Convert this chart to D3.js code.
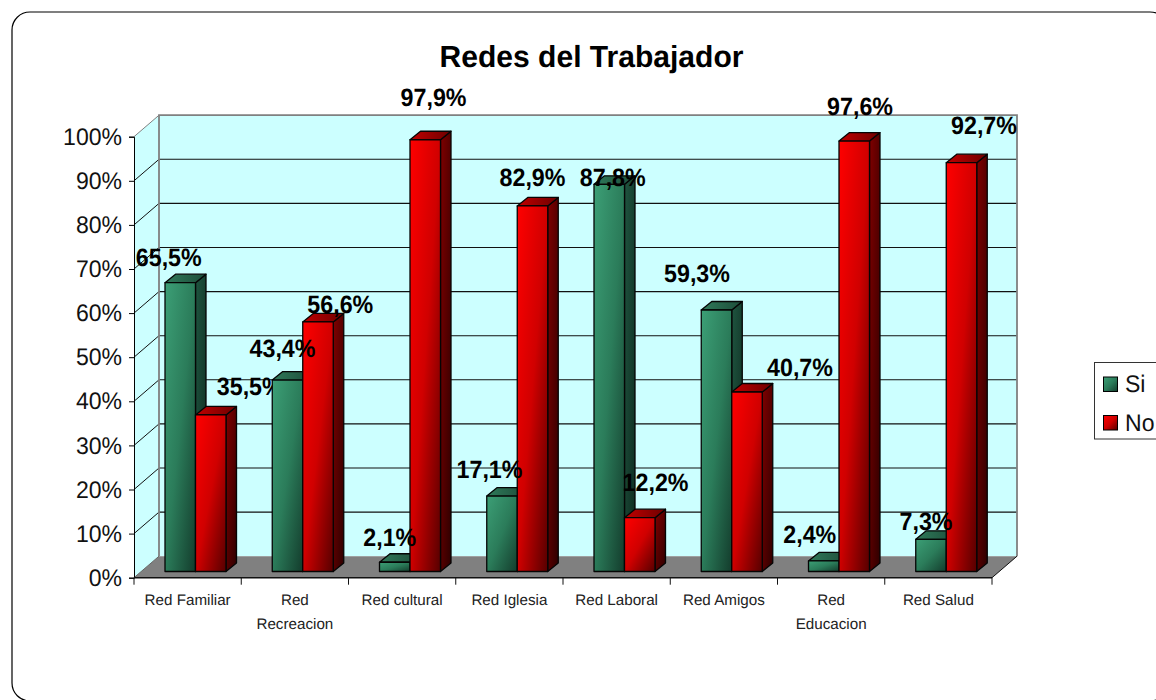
<!DOCTYPE html>
<html><head><meta charset="utf-8">
<script src="https://d3js.org/d3.v7.min.js"></script>
<style>html,body{margin:0;padding:0;background:#fff;overflow:hidden}svg{display:block}text{font-family:"Liberation Sans",Arial,sans-serif;text-rendering:geometricPrecision}</style>
</head><body><svg id="c" width="1156" height="700"></svg>
<script>
const categories = ["Red Familiar","Red Recreacion","Red cultural","Red Iglesia","Red Laboral","Red Amigos","Red Educacion","Red Salud"];
const siValues = [65.5,43.4,2.1,17.1,87.8,59.3,2.4,7.3];
const noValues = [35.5,56.6,97.9,82.9,12.2,40.7,97.6,92.7];
const seriesNames = ["Si","No"];
const yTicks = [0,10,20,30,40,50,60,70,80,90,100];
const chartTitle = "Redes del Trabajador";

// label placement relative to each bar's top centre (labels were hand-moved in the original)
const siLabelShift = [[-11.5,-17],[-5,-23],[-5,-16],[-12.5,-18],[3.5,2],[-19.5,-28],[-14,-18],[-5,-9]];
const noLabelShift = [[39,-20],[22.3,-8.6],[8.3,-34],[0,-20],[15.8,-26.7],[53,-16],[5.8,-26],[22.5,-28.4]];

const svg = d3.select("#c");
const L=134,R=992,B=577.7,T=136.7,DX=25,DY=-21.5,by=-6.2,bdx=10.5,bdy=-8.5;
const x = d3.scaleBand().domain(categories).range([L,R]);
const xs = d3.scaleBand().domain(seriesNames).range([31,92]);
const y = d3.scaleLinear().domain([0,100]).range([B,T]);
const pts = a => a.map(p=>p.join(",")).join(" ");
// the reference text is slightly taller than its natural width
const squeeze = (sel,r) => sel.each(function(){
  const len = this.getComputedTextLength();
  d3.select(this).attr("textLength",len*r).attr("lengthAdjust","spacingAndGlyphs");
});

const defs = svg.append("defs");
function grad(id,stops,diag){
  const g = defs.append("linearGradient").attr("id",id).attr("x1",0).attr("y1",0).attr("x2",1).attr("y2",diag?1:0);
  stops.forEach(s=>g.append("stop").attr("offset",s[0]).attr("stop-color",s[1]));
}
grad("siF",[[0,"#3c9f76"],[.5,"#2b7c5a"],[1,"#133c2c"]],true);
grad("noF",[[0,"#ff0000"],[.5,"#d00000"],[1,"#560000"]],true);
grad("siT",[[0,"#2f7a5a"],[1,"#1d4c39"]],false);
grad("noT",[[0,"#c00000"],[1,"#6e0000"]],false);
grad("siS",[[0,"#1f5540"],[1,"#0e2c20"]],true);
grad("noS",[[0,"#800000"],[1,"#2e0000"]],true);

// frame
svg.append("rect").attr("x",12).attr("y",12).attr("width",1156).attr("height",689).attr("rx",18).attr("ry",18)
  .attr("fill","#fff").attr("stroke","#000").attr("stroke-width",1.2);

// title
svg.append("text").attr("x",591.5).attr("y",67).attr("text-anchor","middle").attr("font-weight","bold")
  .attr("font-size",30.5).attr("fill","#000").text(chartTitle).call(squeeze,0.985);

// walls
svg.append("polygon").attr("points",pts([[L,T],[L+DX,T+DY],[L+DX,B+DY],[L,B]])).attr("fill","#ccffff");
svg.append("rect").attr("x",L+DX).attr("y",T+DY).attr("width",R-L).attr("height",B-T).attr("fill","#ccffff");
svg.append("polygon").attr("points",pts([[L,B],[L+DX,B+DY],[R+DX,B+DY],[R,B]])).attr("fill","#808080");

// gridlines
const inner = yTicks.filter(d=>d>0&&d<100);
svg.selectAll(".g").data(inner).join("line").attr("x1",L+DX).attr("x2",R+DX)
  .attr("y1",d=>y(d)+DY).attr("y2",d=>y(d)+DY).attr("stroke","#111").attr("stroke-width",1.1);
svg.selectAll(".s").data(yTicks.filter(d=>d>0)).join("line").attr("x1",L).attr("x2",L+DX)
  .attr("y1",d=>y(d)).attr("y2",d=>y(d)+DY).attr("stroke",d=>d===100?"#808080":"#111").attr("stroke-width",1);
// wall border
svg.append("path").attr("d",`M${L+DX},${B+DY}V${T+DY}H${R+DX}V${B+DY}`).attr("fill","none").attr("stroke","#808080").attr("stroke-width",1.8);
svg.append("line").attr("x1",L).attr("y1",B).attr("x2",L+DX).attr("y2",B+DY).attr("stroke","#666").attr("stroke-width",1);
svg.append("line").attr("x1",R).attr("y1",B).attr("x2",R+DX).attr("y2",B+DY).attr("stroke","#111").attr("stroke-width",1);

// axes
const yAxis = d3.axisLeft(y).tickValues(yTicks).tickFormat(d=>d+"%").tickSize(5).tickPadding(7);
const ya = svg.append("g").attr("transform",`translate(${L},0)`).call(yAxis);
ya.select(".domain").attr("stroke","#000").attr("stroke-width",1);
ya.selectAll(".tick line").attr("stroke","#000");
ya.selectAll("text").attr("font-size",24).attr("font-family",'"Liberation Sans",Arial,sans-serif').attr("fill","#111").attr("dy","0.32em").call(squeeze,0.96);

const xa = svg.append("g").attr("transform",`translate(0,${B})`);
xa.append("line").attr("x1",L).attr("x2",R).attr("stroke","#111").attr("stroke-width",1.6);
const tickXs = categories.map(c=>x(c)).concat([R]);
xa.selectAll(".t").data(tickXs).join("line").attr("x1",d=>d).attr("x2",d=>d).attr("y1",0).attr("y2",7).attr("stroke","#111");
categories.forEach(c=>{
  const parts = c==="Red Recreacion"||c==="Red Educacion" ? c.split(" ") : [c];
  parts.forEach((p,i)=>{
    xa.append("text").attr("x",x(c)+x.bandwidth()/2).attr("y",27+i*24).attr("text-anchor","middle")
      .attr("font-size",15.2).attr("fill","#222").text(p);
  });
});

// bars + labels per category, in order so later categories overlap earlier labels
const fmt = v => d3.format(".1f")(v).replace(".",",")+"%";
categories.forEach((c,i)=>{
  const g = svg.append("g");
  const recs = [
    {s:"Si",key:"si",v:siValues[i],shift:siLabelShift[i]},
    {s:"No",key:"no",v:noValues[i],shift:noLabelShift[i]}
  ];
  recs.forEach(r=>{
    const x0 = x(c)+xs(r.s), x1 = x0+xs.bandwidth();
    const yb = y(0)+by, yt = y(r.v)+by;
    const st = {stroke:"#050505","stroke-width":1.3,"stroke-linejoin":"round"};
    const add = (p,f)=>{const e=g.append("polygon").attr("points",pts(p)).attr("fill",f);Object.entries(st).forEach(([k,v])=>e.attr(k,v));};
    add([[x1,yb],[x1+bdx,yb+bdy],[x1+bdx,yt+bdy],[x1,yt]],`url(#${r.key}S)`);
    add([[x0,yt],[x0+bdx,yt+bdy],[x1+bdx,yt+bdy],[x1,yt]],`url(#${r.key}T)`);
    add([[x0,yt],[x1,yt],[x1,yb],[x0,yb]],`url(#${r.key}F)`);
  });
  recs.forEach(r=>{
    const xc = x(c)+xs(r.s)+xs.bandwidth()/2;
    g.append("text").attr("x",xc+r.shift[0]).attr("y",y(r.v)+by+r.shift[1]).attr("text-anchor","middle")
      .attr("font-weight","bold").attr("font-size",25).attr("fill","#000").text(fmt(r.v)).call(squeeze,0.93);
  });
});

// legend
const lg = svg.append("g");
lg.append("rect").attr("x",1094.5).attr("y",362.5).attr("width",80).attr("height",76.5).attr("fill","#fff").attr("stroke","#333").attr("stroke-width",1);
seriesNames.forEach((s,i)=>{
  const yy = 377+i*38.5;
  lg.append("rect").attr("x",1103.5).attr("y",yy).attr("width",14).attr("height",14.5)
    .attr("fill",`url(#${i?"no":"si"}F)`).attr("stroke","#000").attr("stroke-width",1);
  lg.append("text").attr("x",1125).attr("y",yy+15).attr("font-size",24).attr("fill","#111").text(s).call(squeeze,0.96);
});
</script></body></html>
